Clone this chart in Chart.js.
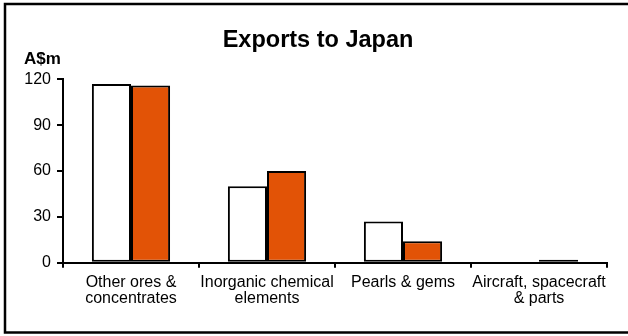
<!DOCTYPE html>
<html>
<head>
<meta charset="utf-8">
<script src="https://cdn.jsdelivr.net/npm/chart.js@4/dist/chart.umd.min.js"></script>
<style>
  html, body { margin: 0; padding: 0; background: #fff; }
  #wrap { width: 628px; height: 336px; position: relative; }
</style>
</head>
<body>
<div id="wrap"><canvas id="c" width="628" height="336"></canvas></div>
<script>
const categories = [
  ["Other ores &", "concentrates"],
  ["Inorganic chemical", "elements"],
  ["Pearls & gems"],
  ["Aircraft, spacecraft", "& parts"]
];
const seriesA = [117, 50, 27, 0];
const seriesB = [116, 60, 14, 2];
const yTicks = [0, 30, 60, 90, 120];
const titleText = "Exports to Japan";
const unitText = "A$m";

const FONT = "Arial, 'Liberation Sans', sans-serif";

const framePlugin = {
  id: 'frame',
  afterDraw(chart) {
    const ctx = chart.ctx;
    ctx.save();
    ctx.strokeStyle = '#000';
    ctx.lineWidth = 2.5;
    ctx.strokeRect(5, 4, 640, 328.5);
    ctx.fillStyle = '#000';
    ctx.font = "bold 23.5px " + FONT;
    ctx.textAlign = 'center';
    ctx.textBaseline = 'alphabetic';
    ctx.fillText(titleText, 318, 46.5);
    ctx.font = "bold 17px " + FONT;
    ctx.textAlign = 'left';
    ctx.fillText(unitText, 24, 64);
    ctx.restore();
  }
};

new Chart(document.getElementById('c'), {
  type: 'bar',
  data: {
    labels: categories,
    datasets: [
      { data: seriesA, backgroundColor: '#ffffff', borderColor: '#000', borderWidth: 2 },
      { data: seriesB, backgroundColor: '#E25306', borderColor: '#000', borderWidth: 2 }
    ]
  },
  options: {
    responsive: false,
    animation: false,
    events: [],
    layout: { padding: { left: 0, right: 21, top: 79.3, bottom: 0 } },
    datasets: { bar: { barPercentage: 1.0, categoryPercentage: 0.575, borderSkipped: false } },
    plugins: {
      legend: { display: false },
      tooltip: { enabled: false },
      title: { display: false }
    },
    scales: {
      x: {
        offset: true,
        grid: { offset: true, drawOnChartArea: false, drawTicks: true, tickLength: 5, color: '#000', lineWidth: 2 },
        border: { display: true, color: '#000', width: 2 },
        ticks: { color: '#000', font: { family: FONT, size: 16, lineHeight: 1.05 }, padding: 6, maxRotation: 0, autoSkip: false },
        afterFit(scale) { scale.height = 336 - 262.7; }
      },
      y: {
        min: 0, max: 120,
        afterBuildTicks(scale) { scale.ticks = yTicks.map(v => ({ value: v })); },
        grid: { drawOnChartArea: false, drawTicks: true, tickLength: 6, color: '#000', lineWidth: 2 },
        border: { display: true, color: '#000', width: 2 },
        ticks: { color: '#000', font: { family: FONT, size: 16 }, padding: 6 },
        afterFit(scale) { scale.width = 63; }
      }
    }
  },
  plugins: [framePlugin]
});
</script>
</body>
</html>
